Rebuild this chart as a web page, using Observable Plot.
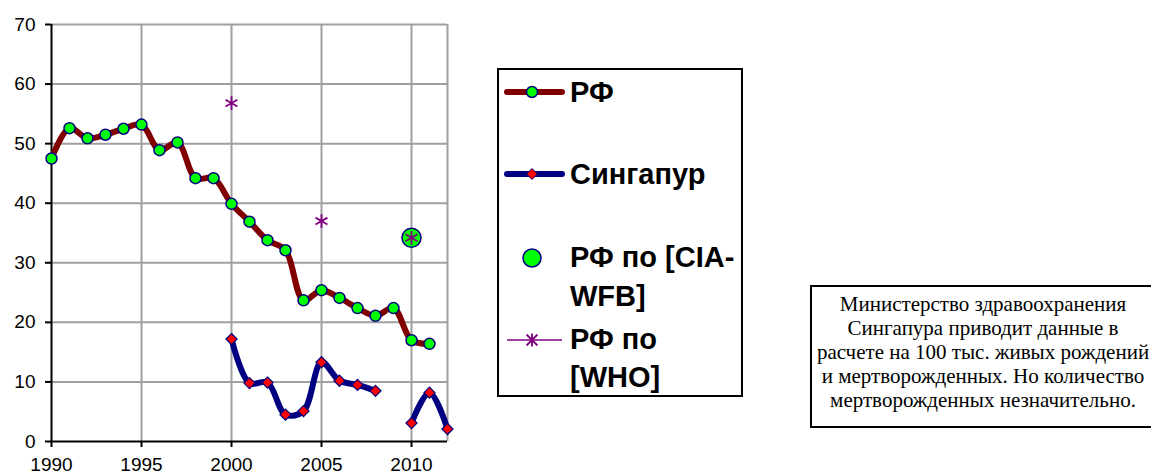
<!DOCTYPE html>
<html>
<head>
<meta charset="utf-8">
<script src="https://cdn.jsdelivr.net/npm/d3@7"></script>
<script src="https://cdn.jsdelivr.net/npm/@observablehq/plot@0.6"></script>
<style>
html, body { margin: 0; padding: 0; background: #fff; overflow: hidden; width: 1151px; height: 475px; }
#wrap { position: relative; width: 1151px; height: 475px; overflow: hidden; }
#chart { position: absolute; left: 0; top: 0; }
#chart svg text { font-size: 19px !important; font-family: "Liberation Sans", Arial, sans-serif; fill: #000; }
.box { position: absolute; border: 2px solid #000; box-sizing: border-box; background: #fff; }
.sw { position: absolute; }
.lt { position: absolute; font-family: "Liberation Sans", Arial, sans-serif; font-weight: bold; font-size: 29px; color: #000; white-space: nowrap; }
#note { position: absolute; left: 810px; top: 285px; width: 346px; height: 143px; border-top: 2px solid #000; border-left: 2px solid #000; border-bottom: 2px solid #000; box-sizing: border-box;
  font-family: "Liberation Serif", "Times New Roman", serif; font-size: 21px; line-height: 24px; padding-top: 5px; color: #000; white-space: nowrap; }
#note div { text-align: center; width: 346px; margin-left: -2px; }
</style>
</head>
<body>
<div id="wrap">
  <div id="chart"></div>
  <div class="box" style="left:497px; top:68px; width:246px; height:329px;"></div>
  <svg class="sw" style="left:500px; top:80px;" width="70" height="24">
    <line x1="7" y1="12" x2="62" y2="12" stroke="#800000" stroke-width="6" stroke-linecap="round"/>
    <circle cx="32" cy="12" r="5.5" fill="#00ff00" stroke="#000080" stroke-width="1.5"/>
  </svg>
  <div class="lt" style="left:570px; top:74px; line-height:36px;">РФ</div>
  <svg class="sw" style="left:500px; top:162px;" width="70" height="24">
    <line x1="7" y1="12" x2="62" y2="12" stroke="#000080" stroke-width="6" stroke-linecap="round"/>
    <path d="M32,6.5L37.5,12L32,17.5L26.5,12Z" fill="#ff0000" stroke="#000080" stroke-width="1"/>
  </svg>
  <div class="lt" style="left:570px; top:156px; line-height:36px;">Сингапур</div>
  <svg class="sw" style="left:500px; top:246px;" width="70" height="24">
    <circle cx="32" cy="12" r="9" fill="#00ff00" stroke="#000080" stroke-width="1.5"/>
  </svg>
  <div class="lt" style="left:570px; top:238px; line-height:39px;">РФ по [CIA-<br>WFB]</div>
  <svg class="sw" style="left:500px; top:328px;" width="70" height="24">
    <line x1="7" y1="12" x2="62" y2="12" stroke="#800080" stroke-width="1.5"/>
    <path d="M32,5.5V18.5M26.5,6.5L37.5,17.5M26.5,17.5L37.5,6.5" stroke="#800080" stroke-width="1.8" fill="none"/>
  </svg>
  <div class="lt" style="left:570px; top:320px; line-height:38px;">РФ по<br>[WHO]</div>
  <div id="note"><div>Министерство здравоохранения<br>Сингапура приводит данные в<br>расчете на 100 тыс. живых рождений<br>и мертворожденных. Но количество<br>мертворожденных незначительно.</div></div>
</div>
<script>
// Data
const rfYears = [1990, 1991, 1992, 1993, 1994, 1995, 1996, 1997, 1998, 1999, 2000,
                 2001, 2002, 2003, 2004, 2005, 2006, 2007, 2008, 2009, 2010, 2011];
const rfValues = [47.5, 52.6, 50.9, 51.5, 52.5, 53.2, 48.9, 50.2, 44.2, 44.2, 39.9,
                  36.9, 33.8, 32.1, 23.7, 25.4, 24.1, 22.4, 21.1, 22.4, 17.0, 16.4];
const sgYears = [2000, 2001, 2002, 2003, 2004, 2005, 2006, 2007, 2008, 2009, 2010, 2011, 2012];
const sgValues = [17.2, 9.8, 9.9, 4.5, 5.1, 13.3, 10.2, 9.5, 8.5, null, 3.1, 8.2, 2.1];
const ciaYears = [2010];
const ciaValues = [34.2];
const whoYears = [2000, 2005, 2010];
const whoValues = [56.8, 37.0, 34.2];
const xTicks = [1990, 1995, 2000, 2005, 2010];
const xGrid = [1995, 2000, 2005, 2010, 2012];
const yTicks = [0, 10, 20, 30, 40, 50, 60, 70];

const rf = rfYears.map((x, i) => ({x, y: rfValues[i]}));
const sg = sgYears.map((x, i) => ({x, y: sgValues[i]}));
const cia = ciaYears.map((x, i) => ({x, y: ciaValues[i]}));
const who = whoYears.map((x, i) => ({x, y: whoValues[i]}));

const grid = "#a0a0a0";
const chart = Plot.plot({
  width: 480,
  height: 475,
  marginLeft: 51,
  marginRight: 33,
  marginTop: 24,
  marginBottom: 34,
  x: {domain: [1990, 2012]},
  y: {domain: [0, 70]},
  style: {fontFamily: "'Liberation Sans', Arial, sans-serif", fontSize: "19px", color: "#000", background: "transparent", overflow: "visible"},
  marks: [
    Plot.gridX(xGrid, {stroke: grid, strokeOpacity: 1, strokeWidth: 2}),
    Plot.gridY(yTicks.filter(d => d > 0), {stroke: grid, strokeOpacity: 1, strokeWidth: 2}),
    Plot.axisY(yTicks, {tickSize: 6, tickPadding: 10, fontSize: 19, label: null, strokeWidth: 2}),
    Plot.axisX(xTicks, {tickSize: 6, tickPadding: 10, fontSize: 19, label: null, tickFormat: d => String(d), strokeWidth: 2}),
    Plot.ruleX([1990], {stroke: "#000", strokeWidth: 2}),
    Plot.ruleY([0], {stroke: "#000", strokeWidth: 2}),
    Plot.line(rf, {x: "x", y: "y", curve: "catmull-rom", stroke: "#800000", strokeWidth: 6, strokeLinejoin: "round"}),
    Plot.dot(rf, {x: "x", y: "y", r: 5.5, fill: "#00ff00", stroke: "#000080", strokeWidth: 1.5}),
    Plot.line(sg, {x: "x", y: "y", curve: "catmull-rom", stroke: "#000080", strokeWidth: 6, strokeLinejoin: "round"}),
    Plot.dot(sg, {x: "x", y: "y", symbol: "diamond2", r: 5, fill: "#ff0000", stroke: "#000080", strokeWidth: 1.2}),
    Plot.dot(cia, {x: "x", y: "y", r: 9.5, fill: "#00ff00", stroke: "#000080", strokeWidth: 1.5}),
    Plot.dot(who, {x: "x", y: "y", symbol: "asterisk", r: 6.5, stroke: "#800080", strokeWidth: 1.8})
  ]
});
document.getElementById("chart").appendChild(chart);
</script>
</body>
</html>
